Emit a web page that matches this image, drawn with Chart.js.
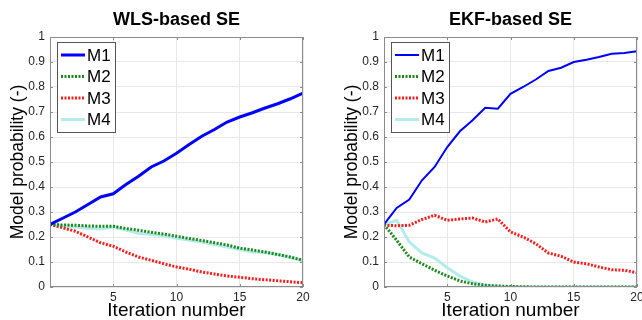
<!DOCTYPE html>
<html>
<head>
<meta charset="utf-8">
<script src="https://cdn.jsdelivr.net/npm/chart.js@4"></script>
<style>
body { margin: 0; background: #fff; }
#wrap { display: flex; width: 642px; height: 320px; overflow: hidden; }
canvas { display: block; }
</style>
</head>
<body>
<div id="wrap">
<canvas id="wls" width="321" height="320"></canvas>
<canvas id="ekf" width="321" height="320"></canvas>
</div>
<script>
var iterations = [0, 1, 2, 3, 4, 5, 6, 7, 8, 9, 10, 11, 12, 13, 14, 15, 16, 17, 18, 19, 20];
var modelNames = ['M1', 'M2', 'M3', 'M4'];

// WLS-based SE
var wlsM1 = [0.25, 0.275, 0.30, 0.33, 0.36, 0.373, 0.41, 0.443, 0.48, 0.504, 0.535, 0.57, 0.603, 0.63, 0.66, 0.68, 0.697, 0.716, 0.733, 0.753, 0.776];
var wlsM2 = [0.25, 0.248, 0.247, 0.244, 0.243, 0.243, 0.234, 0.227, 0.219, 0.212, 0.203, 0.194, 0.186, 0.177, 0.168, 0.155, 0.148, 0.14, 0.13, 0.12, 0.107];
var wlsM3 = [0.25, 0.237, 0.223, 0.20, 0.177, 0.163, 0.14, 0.12, 0.107, 0.093, 0.08, 0.071, 0.06, 0.052, 0.044, 0.039, 0.033, 0.029, 0.025, 0.021, 0.017];
var wlsM4 = [0.25, 0.245, 0.24, 0.235, 0.232, 0.24, 0.228, 0.215, 0.21, 0.205, 0.195, 0.188, 0.18, 0.17, 0.16, 0.15, 0.14, 0.138, 0.13, 0.118, 0.105];

// EKF-based SE
var ekfM1 = [0.25, 0.316, 0.35, 0.427, 0.48, 0.56, 0.623, 0.667, 0.717, 0.713, 0.773, 0.80, 0.83, 0.864, 0.877, 0.90, 0.909, 0.92, 0.933, 0.936, 0.943];
var ekfM2 = [0.25, 0.187, 0.12, 0.093, 0.067, 0.044, 0.024, 0.013, 0.007, 0.004, 0.002, 0.001, 0, 0, 0, 0, 0, 0, 0, 0, 0];
var ekfM3 = [0.247, 0.245, 0.247, 0.27, 0.287, 0.267, 0.272, 0.276, 0.26, 0.272, 0.22, 0.20, 0.173, 0.136, 0.123, 0.10, 0.093, 0.08, 0.069, 0.067, 0.057];
var ekfM4 = [0.25, 0.267, 0.18, 0.136, 0.116, 0.077, 0.044, 0.02, 0.007, 0.002, 0.001, 0, 0, 0, 0, 0, 0, 0, 0, 0, 0];

var xTicks = [5, 10, 15, 20];

var FONT = '"Liberation Sans", Arial, Helvetica, sans-serif';

function pts(ys) {
	return iterations.map(function (x, i) { return { x: x, y: ys[i] }; });
}

// matlab style box + inward ticks + legend in the upper left corner
var matlabBox = {
	id: 'matlabBox',
	afterDatasetsDraw: function (chart) {
		var ctx = chart.ctx, a = chart.chartArea;
		var xs = chart.scales.x, ys = chart.scales.y;
		ctx.save();
		ctx.strokeStyle = '#8c8c8c';
		ctx.lineWidth = 1;
		ctx.strokeRect(a.left + 0.5, a.top + 0.5, a.right - a.left - 1, a.bottom - a.top - 1);
		ctx.beginPath();
		xs.ticks.forEach(function (t) {
			var px = Math.round(xs.getPixelForValue(t.value)) + 0.5;
			ctx.moveTo(px, a.bottom); ctx.lineTo(px, a.bottom - 3);
			ctx.moveTo(px, a.top); ctx.lineTo(px, a.top + 3);
		});
		ys.ticks.forEach(function (t) {
			var py = Math.round(ys.getPixelForValue(t.value)) + 0.5;
			ctx.moveTo(a.left, py); ctx.lineTo(a.left + 3, py);
			ctx.moveTo(a.right, py); ctx.lineTo(a.right - 3, py);
		});
		ctx.stroke();

		// legend
		var bx = a.left + 7, by = a.top + 5, bw = 58, bh = 90;
		ctx.fillStyle = '#fff';
		ctx.fillRect(bx, by, bw, bh);
		ctx.strokeStyle = '#555';
		ctx.strokeRect(bx + 0.5, by + 0.5, bw, bh);
		ctx.font = '17px ' + FONT;
		ctx.textBaseline = 'middle';
		ctx.fillStyle = '#000';
		chart.data.datasets.forEach(function (ds, i) {
			var y = by + 13 + i * 21.5;
			ctx.beginPath();
			ctx.strokeStyle = ds.borderColor;
			ctx.lineWidth = ds.borderWidth;
			ctx.setLineDash(ds.borderDash || []);
			ctx.moveTo(bx + 4, y); ctx.lineTo(bx + 28, y);
			ctx.stroke();
			ctx.setLineDash([]);
			ctx.fillText(ds.label, bx + 30, y + 1);
		});
		ctx.restore();
	}
};

function makeChart(canvasName, graphName, m1, m2, m3, m4, m1Width, yWidth, rightPad, yTitlePad) {
	var ctx = document.getElementById(canvasName).getContext('2d');
	var series = [m1, m2, m3, m4];
	var colors = ['#0000ff', '#1b8a1b', '#ff1c1c', '#b4ecec'];
	var widths = [m1Width, 3, 3, 3];
	var dashes = [[], [2, 1.5], [2, 1.5], []];
	var myChart = new Chart(ctx, {
		type: 'line',
		data: {
			datasets: series.map(function (s, i) {
				return {
					label: modelNames[i],
					data: pts(s),
					borderColor: colors[i],
					borderWidth: widths[i],
					borderDash: dashes[i],
					pointRadius: 0,
					tension: 0,
					fill: false
				};
			})
		},
		options: {
			responsive: false,
			animation: false,
			layout: { padding: { left: 0, right: rightPad, top: 0, bottom: 0 } },
			plugins: {
				legend: { display: false },
				tooltip: { enabled: false },
				title: {
					display: true,
					fullSize: false,
					text: graphName,
					color: '#000',
					font: { family: FONT, size: 18, weight: 'bold' },
					padding: { top: 9.4, bottom: 6 }
				}
			},
			scales: {
				x: {
					type: 'linear',
					min: 0,
					max: 20,
					afterBuildTicks: function (scale) {
						scale.ticks = [0].concat(xTicks).map(function (v) { return { value: v }; });
					},
					afterFit: function (scale) {
						scale.height = 33;
						scale.paddingLeft = 0;
						scale.paddingRight = 0;
					},
					grid: { color: '#e8e8e8', drawTicks: false },
					border: { display: false },
					ticks: {
						autoSkip: false,
						maxRotation: 0,
						padding: 3,
						color: '#262626',
						font: { family: FONT, size: 12 },
						callback: function (v) { return v === 0 ? '' : v; }
					},
					title: {
						display: true,
						text: 'Iteration number',
						color: '#000',
						font: { family: FONT, size: 19, lineHeight: 1 },
						padding: { top: 0, bottom: 0 }
					}
				},
				y: {
					min: 0,
					max: 1,
					afterFit: function (scale) { scale.width = yWidth; },
					grid: { color: '#e8e8e8', drawTicks: false },
					border: { display: false },
					ticks: {
						stepSize: 0.1,
						padding: 5,
						color: '#262626',
						font: { family: FONT, size: 12 },
						callback: function (v) { return Math.round(v * 10) / 10; }
					},
					title: {
						display: true,
						text: 'Model probability (-)',
						color: '#000',
						font: { family: FONT, size: 17.5, lineHeight: 1 },
						padding: { top: yTitlePad, bottom: 0 }
					}
				}
			}
		},
		plugins: [matlabBox]
	});
	return myChart;
}

makeChart('wls', 'WLS-based SE', wlsM1, wlsM2, wlsM3, wlsM4, 3, 50, 18, 9);
makeChart('ekf', 'EKF-based SE', ekfM1, ekfM2, ekfM3, ekfM4, 2, 63, 5, 22);
</script>
</body>
</html>
